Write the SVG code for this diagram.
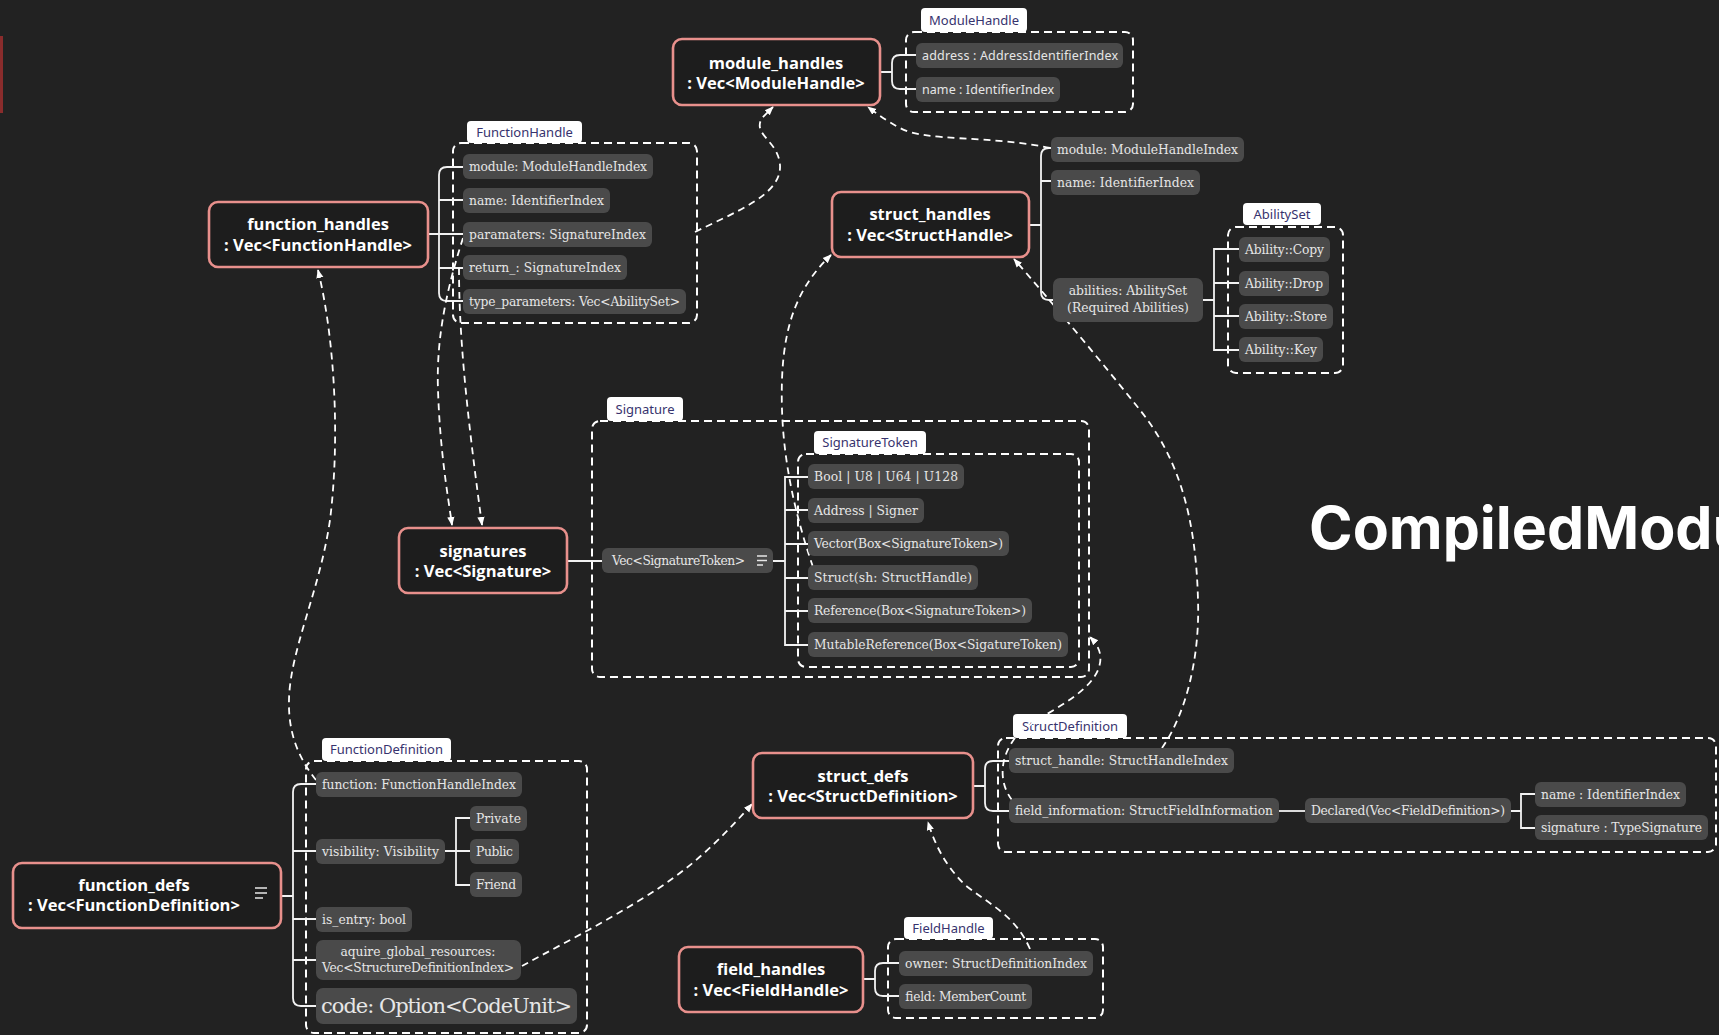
<svg xmlns="http://www.w3.org/2000/svg" width="1719" height="1035" viewBox="0 0 1719 1035">
  <defs>
    <style>
      .bg { fill: #222222; }
      .node rect.frame { fill: #1d1d1d; stroke: #e8908c; stroke-width: 2.6; }
      .node text { font-family: "Open Sans", "Noto Sans", sans-serif; font-weight: 700; font-size: 16.5px; fill: #ffffff; text-anchor: middle; }
      .pill rect { fill: #4a4a4a; }
      .pill text { font-family: "DejaVu Serif", "Liberation Serif", serif; font-size: 12.3px; fill: #e6e6e6; }
      .pill text.sans { font-family: "Noto Sans", "Open Sans", sans-serif; font-size: 12.5px; }
      .pill text.mid { text-anchor: middle; }
      .pill text.big { font-size: 21px; }
      .box { fill: none; stroke: #ffffff; stroke-width: 2; stroke-dasharray: 8 5; }
      .tab rect { fill: #ffffff; }
      .tab text { font-family: "Noto Sans", "Open Sans", sans-serif; font-size: 13px; fill: #37336e; text-anchor: middle; }
      .tree { fill: none; stroke: #f2f2f2; stroke-width: 1.8; }
      .link { fill: none; stroke: #ffffff; stroke-width: 1.8; stroke-dasharray: 7 5; marker-end: url(#arrow); }
      .icon { stroke: #e6e6e6; stroke-width: 1.6; }
      .title { font-family: Inter, "Liberation Sans", sans-serif; font-weight: 700; font-size: 59px; fill: #ffffff; }
    </style>
    <marker id="arrow" viewBox="0 0 10 10" refX="9" refY="5" markerWidth="9" markerHeight="9" markerUnits="userSpaceOnUse" orient="auto">
      <path d="M0,1 L10,5 L0,9 z" fill="#ffffff"/>
    </marker>
  </defs>

  <rect class="bg" x="0" y="0" width="1719" height="1035"/>
  <rect x="0" y="36" width="3" height="77" fill="#8a2c2c"/>

  <text class="title" x="1309" y="549">CompiledModule</text>

  <!-- dashed containers with their tabs -->
  <g id="container-module-handle">
    <rect class="box" x="906" y="32" width="227" height="80" rx="8"/>
    <g class="tab"><rect x="921" y="8" width="106" height="24" rx="4"/><text x="974" y="25">ModuleHandle</text></g>
  </g>
  <g id="container-function-handle">
    <rect class="box" x="453" y="143" width="244" height="180" rx="8"/>
    <g class="tab"><rect x="467" y="121" width="115" height="22" rx="4"/><text x="524.5" y="137">FunctionHandle</text></g>
  </g>
  <g id="container-ability-set">
    <rect class="box" x="1228" y="227" width="115" height="146" rx="8"/>
    <g class="tab"><rect x="1243" y="203" width="78" height="22" rx="4"/><text x="1282" y="219">AbilitySet</text></g>
  </g>
  <g id="container-signature">
    <rect class="box" x="592" y="421" width="497" height="256" rx="8"/>
    <g class="tab"><rect x="607" y="397" width="76" height="24" rx="4"/><text x="645" y="414">Signature</text></g>
  </g>
  <g id="container-signature-token">
    <rect class="box" x="798" y="454" width="281" height="213" rx="8"/>
    <g class="tab"><rect x="814" y="431" width="112" height="23" rx="4"/><text x="870" y="447">SignatureToken</text></g>
  </g>
  <g id="container-function-definition">
    <rect class="box" x="306" y="761" width="281" height="272" rx="8"/>
    <g class="tab"><rect x="322" y="738" width="129" height="23" rx="4"/><text x="386.5" y="754">FunctionDefinition</text></g>
  </g>
  <g id="container-struct-definition">
    <rect class="box" x="998" y="738" width="718" height="114" rx="8"/>
    <g class="tab"><rect x="1013" y="714" width="114" height="24" rx="4"/><text x="1070" y="731">StructDefinition</text></g>
  </g>
  <g id="container-field-handle">
    <rect class="box" x="888" y="939" width="215" height="79" rx="8"/>
    <g class="tab"><rect x="904" y="917" width="89" height="22" rx="4"/><text x="948.5" y="933">FieldHandle</text></g>
  </g>

  <!-- connectors: tree brackets and dashed references -->
  <g id="connectors">
    <path class="tree" d="M880,72 H892 M916,55 H900 Q892,55 892,63 V81 Q892,89 900,89 H916"/>
    <path class="tree" d="M428,234 H439 M463,167 H447 Q439,167 439,175 V293 Q439,301 447,301 H463 M439,200 H463 M439,234 H463 M439,268 H463"/>
    <path class="tree" d="M1029,225 H1041 M1051,148 H1049 Q1041,148 1041,156 V292 Q1041,300 1049,300 H1053 M1041,181 H1051"/>
    <path class="tree" d="M1203,300 H1214 M1239,249 H1214 V350 H1239 M1214,283 H1239 M1214,316 H1239"/>
    <path class="tree" d="M567,561 H602"/>
    <path class="tree" d="M773,561 H785 M808,477 H785 V645 H808 M785,510 H808 M785,544 H808 M785,578 H808 M785,611 H808"/>
    <path class="tree" d="M281,896 H293 M316,784 H301 Q293,784 293,792 V998 Q293,1006 301,1006 H316 M293,851 H316 M293,919 H316 M293,960 H316"/>
    <path class="tree" d="M445,851 H456 M470,818 H456 V885 H470 M456,851 H470"/>
    <path class="tree" d="M973,786 H985 M1009,761 H993 Q985,761 985,769 V803 Q985,811 993,811 H1009"/>
    <path class="tree" d="M1279,811 H1305"/>
    <path class="tree" d="M1511,811 H1521 M1535,794 H1521 V828 H1535"/>
    <path class="tree" d="M863,979 H875 M899,963 H883 Q875,963 875,971 V988 Q875,996 883,996 H899"/>

    <path class="link" d="M695,232 C735,212 782,195 780,165 C778,140 752,135 762,118 L773,107"/>
    <path class="link" d="M1050,148 C990,135 925,142 900,128 C885,120 876,113 868,107"/>
    <path class="link" d="M316,780 C300,760 288,735 289,700 C290,650 320,590 330,520 C340,440 335,340 318,270"/>
    <path class="link" d="M463,238 C448,285 436,335 438,390 C440,450 447,490 452,525"/>
    <path class="link" d="M459,268 C459,330 465,400 482,525"/>
    <path class="link" d="M813,567 C790,500 780,440 782,380 C784,320 800,285 831,255"/>
    <path class="link" d="M1162,748 C1185,715 1200,660 1198,600 C1196,520 1180,460 1140,410 C1100,360 1050,300 1014,259"/>
    <path class="link" d="M1012,800 C1000,785 998,760 1015,738 C1035,715 1085,700 1098,670 C1104,655 1098,645 1090,637"/>
    <path class="link" d="M522,966 C560,945 600,925 640,900 C690,870 720,840 752,804"/>
    <path class="link" d="M1030,949 C1015,915 990,905 965,885 C945,865 935,845 928,822"/>
  </g>

  <!-- main table nodes -->
  <g id="module_handles" class="node">
    <rect class="frame" x="673" y="39" width="207" height="66" rx="9"/>
    <text x="776" y="69">module_handles</text>
    <text x="776" y="89">: Vec&lt;ModuleHandle&gt;</text>
  </g>
  <g id="function_handles" class="node">
    <rect class="frame" x="209" y="202" width="219" height="65" rx="9"/>
    <text x="318" y="230">function_handles</text>
    <text x="318" y="251">: Vec&lt;FunctionHandle&gt;</text>
  </g>
  <g id="struct_handles" class="node">
    <rect class="frame" x="832" y="192" width="197" height="65" rx="9"/>
    <text x="930" y="220">struct_handles</text>
    <text x="930" y="241">: Vec&lt;StructHandle&gt;</text>
  </g>
  <g id="signatures" class="node">
    <rect class="frame" x="399" y="528" width="168" height="65" rx="9"/>
    <text x="483" y="557">signatures</text>
    <text x="483" y="577">: Vec&lt;Signature&gt;</text>
  </g>
  <g id="function_defs" class="node">
    <rect class="frame" x="13" y="863" width="268" height="65" rx="9"/>
    <text x="134" y="891">function_defs</text>
    <text x="134" y="911">: Vec&lt;FunctionDefinition&gt;</text>
    <path class="icon" d="M255,888 H267 M255,893 H267 M255,898 H263"/>
  </g>
  <g id="struct_defs" class="node">
    <rect class="frame" x="753" y="753" width="220" height="65" rx="9"/>
    <text x="863" y="782">struct_defs</text>
    <text x="863" y="802">: Vec&lt;StructDefinition&gt;</text>
  </g>
  <g id="field_handles" class="node">
    <rect class="frame" x="679" y="947" width="184" height="65" rx="9"/>
    <text x="771" y="975">field_handles</text>
    <text x="771" y="996">: Vec&lt;FieldHandle&gt;</text>
  </g>

  <!-- field pills -->
  <g id="mh-address" class="pill"><rect x="916" y="43" width="207" height="25" rx="6"/><text class="sans" x="922" y="60" textLength="196">address : AddressIdentifierIndex</text></g>
  <g id="mh-name" class="pill"><rect x="916" y="77" width="144" height="25" rx="6"/><text class="sans" x="922" y="94" textLength="132">name : IdentifierIndex</text></g>

  <g id="fh-module" class="pill"><rect x="463" y="154" width="190" height="25" rx="6"/><text x="469" y="171" textLength="178">module: ModuleHandleIndex</text></g>
  <g id="fh-name" class="pill"><rect x="463" y="188" width="147" height="25" rx="6"/><text x="469" y="205" textLength="135">name: IdentifierIndex</text></g>
  <g id="fh-params" class="pill"><rect x="463" y="222" width="189" height="25" rx="6"/><text x="469" y="239" textLength="177">paramaters: SignatureIndex</text></g>
  <g id="fh-return" class="pill"><rect x="463" y="255" width="164" height="25" rx="6"/><text x="469" y="272" textLength="152">return_: SignatureIndex</text></g>
  <g id="fh-type-params" class="pill"><rect x="463" y="289" width="223" height="25" rx="6"/><text x="469" y="306" textLength="211">type_parameters: Vec&lt;AbilitySet&gt;</text></g>

  <g id="sh-module" class="pill"><rect x="1051" y="137" width="193" height="25" rx="6"/><text x="1057" y="154" textLength="181">module: ModuleHandleIndex</text></g>
  <g id="sh-name" class="pill"><rect x="1051" y="170" width="149" height="25" rx="6"/><text x="1057" y="187" textLength="137">name: IdentifierIndex</text></g>
  <g id="sh-abilities" class="pill"><rect x="1053" y="278" width="150" height="44" rx="7"/><text class="mid" x="1128" y="295">abilities: AbilitySet</text><text class="mid" x="1128" y="312">(Required Abilities)</text></g>

  <g id="ab-copy" class="pill"><rect x="1239" y="237" width="91" height="25" rx="6"/><text x="1245" y="254" textLength="79">Ability::Copy</text></g>
  <g id="ab-drop" class="pill"><rect x="1239" y="271" width="90" height="25" rx="6"/><text x="1245" y="288" textLength="78">Ability::Drop</text></g>
  <g id="ab-store" class="pill"><rect x="1239" y="304" width="94" height="25" rx="6"/><text x="1245" y="321" textLength="82">Ability::Store</text></g>
  <g id="ab-key" class="pill"><rect x="1239" y="337" width="84" height="25" rx="6"/><text x="1245" y="354" textLength="72">Ability::Key</text></g>

  <g id="sig-vec" class="pill"><rect x="602" y="548" width="171" height="25" rx="6"/><text x="612" y="565" textLength="133">Vec&lt;SignatureToken&gt;</text><path class="icon" d="M757,556 H767 M757,560.5 H767 M757,565 H763"/></g>

  <g id="st-prim" class="pill"><rect x="808" y="464" width="156" height="25" rx="6"/><text x="814" y="481" textLength="144">Bool | U8 | U64 | U128</text></g>
  <g id="st-addr" class="pill"><rect x="808" y="498" width="116" height="25" rx="6"/><text x="814" y="515" textLength="104">Address | Signer</text></g>
  <g id="st-vector" class="pill"><rect x="808" y="531" width="201" height="25" rx="6"/><text x="814" y="548" textLength="189">Vector(Box&lt;SignatureToken&gt;)</text></g>
  <g id="st-struct" class="pill"><rect x="808" y="565" width="170" height="25" rx="6"/><text x="814" y="582" textLength="158">Struct(sh: StructHandle)</text></g>
  <g id="st-ref" class="pill"><rect x="808" y="598" width="224" height="25" rx="6"/><text x="814" y="615" textLength="212">Reference(Box&lt;SignatureToken&gt;)</text></g>
  <g id="st-mutref" class="pill"><rect x="808" y="632" width="260" height="25" rx="6"/><text x="814" y="649" textLength="248">MutableReference(Box&lt;SigatureToken)</text></g>

  <g id="fd-function" class="pill"><rect x="316" y="772" width="206" height="25" rx="6"/><text x="322" y="789" textLength="194">function: FunctionHandleIndex</text></g>
  <g id="fd-visibility" class="pill"><rect x="316" y="839" width="129" height="25" rx="6"/><text x="322" y="856" textLength="117">visibility: Visibility</text></g>
  <g id="vis-private" class="pill"><rect x="470" y="806" width="57" height="25" rx="6"/><text x="476" y="823" textLength="45">Private</text></g>
  <g id="vis-public" class="pill"><rect x="470" y="839" width="49" height="25" rx="6"/><text x="476" y="856" textLength="37">Public</text></g>
  <g id="vis-friend" class="pill"><rect x="470" y="872" width="52" height="25" rx="6"/><text x="476" y="889" textLength="40">Friend</text></g>
  <g id="fd-entry" class="pill"><rect x="316" y="907" width="96" height="25" rx="6"/><text x="322" y="924" textLength="84">is_entry: bool</text></g>
  <g id="fd-acquires" class="pill"><rect x="316" y="940" width="205" height="40" rx="7"/><text class="mid" x="418" y="956" textLength="155">aquire_global_resources:</text><text class="mid" x="418" y="972" textLength="192">Vec&lt;StructureDefinitionIndex&gt;</text></g>
  <g id="fd-code" class="pill"><rect x="316" y="988" width="261" height="36" rx="7"/><text class="big" x="321" y="1013" textLength="251">code: Option&lt;CodeUnit&gt;</text></g>

  <g id="sd-handle" class="pill"><rect x="1009" y="748" width="225" height="25" rx="6"/><text x="1015" y="765" textLength="213">struct_handle: StructHandleIndex</text></g>
  <g id="sd-fields" class="pill"><rect x="1009" y="798" width="270" height="25" rx="6"/><text x="1015" y="815" textLength="258">field_information: StructFieldInformation</text></g>
  <g id="sd-declared" class="pill"><rect x="1305" y="798" width="206" height="25" rx="6"/><text x="1311" y="815" textLength="194">Declared(Vec&lt;FieldDefinition&gt;)</text></g>
  <g id="fdef-name" class="pill"><rect x="1535" y="782" width="151" height="25" rx="6"/><text x="1541" y="799" textLength="139">name : IdentifierIndex</text></g>
  <g id="fdef-sig" class="pill"><rect x="1535" y="815" width="173" height="25" rx="6"/><text x="1541" y="832" textLength="161">signature : TypeSignature</text></g>

  <g id="fld-owner" class="pill"><rect x="899" y="951" width="194" height="25" rx="6"/><text x="905" y="968" textLength="182">owner: StructDefinitionIndex</text></g>
  <g id="fld-field" class="pill"><rect x="899" y="984" width="133" height="25" rx="6"/><text x="905" y="1001" textLength="121">field: MemberCount</text></g>
</svg>
